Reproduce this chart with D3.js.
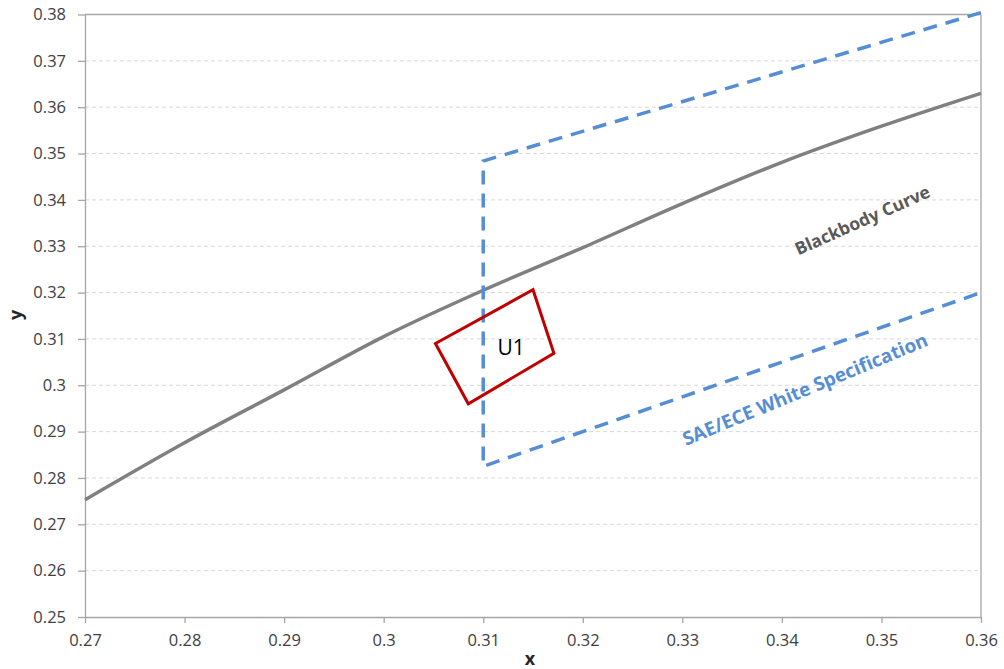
<!DOCTYPE html>
<html><head><meta charset="utf-8">
<script src="https://cdn.jsdelivr.net/npm/d3@7"></script>
<style>body{margin:0;background:#fff;} text{font-family:"Open Sans","Noto Sans",sans-serif;}</style>
</head><body>
<svg id="c" width="1004" height="669"></svg>
<script>
// Blackbody (Planckian) curve points
const bbX = [0.27, 0.28, 0.29, 0.30, 0.31, 0.32, 0.33, 0.34, 0.35, 0.36];
const bbY = [0.2753, 0.2876, 0.2990, 0.3105, 0.3205, 0.3297, 0.3392, 0.3481, 0.3559, 0.3630];
// SAE/ECE white specification boundary (open box)
const specX = [0.36, 0.31, 0.31, 0.36];
const specY = [0.3804, 0.3484, 0.2825, 0.3200];
// U1 quadrilateral
const u1X = [0.3052, 0.3150, 0.3171, 0.3085];
const u1Y = [0.3090, 0.3206, 0.3069, 0.2960];
// ticks
const xTicks = [0.27, 0.28, 0.29, 0.30, 0.31, 0.32, 0.33, 0.34, 0.35, 0.36];
const xTickLabels = ["0.27","0.28","0.29","0.3","0.31","0.32","0.33","0.34","0.35","0.36"];
const yTicks = [0.25,0.26,0.27,0.28,0.29,0.30,0.31,0.32,0.33,0.34,0.35,0.36,0.37,0.38];
const yTickLabels = ["0.25","0.26","0.27","0.28","0.29","0.3","0.31","0.32","0.33","0.34","0.35","0.36","0.37","0.38"];

const L = 85, R = 981, T = 14.5, B = 617;
const svg = d3.select("#c");
const x = d3.scaleLinear().domain([0.27, 0.36]).range([L, R]);
const y = d3.scaleLinear().domain([0.25, 0.38]).range([B, T]);

// gridlines
svg.append("g").selectAll("line").data(yTicks.slice(1, -1)).join("line")
  .attr("x1", L).attr("x2", R).attr("y1", d => y(d)).attr("y2", d => y(d))
  .attr("stroke", "#d9d9d9").attr("stroke-width", 1).attr("stroke-dasharray", "4,3");

// frame top/right
svg.append("line").attr("x1", L).attr("x2", R).attr("y1", T).attr("y2", T).attr("stroke", "#a6a6a6").attr("stroke-width", 1.3);
svg.append("line").attr("x1", R).attr("x2", R).attr("y1", T).attr("y2", B).attr("stroke", "#a6a6a6").attr("stroke-width", 1.3);

// axes
const xAxis = d3.axisBottom(x).tickValues(xTicks).tickFormat((d, i) => xTickLabels[i]).tickSize(6).tickSizeOuter(0);
const gx = svg.append("g").attr("transform", `translate(0,${B})`).call(xAxis);
const yAxis = d3.axisLeft(y).tickValues(yTicks).tickFormat((d, i) => yTickLabels[i]).tickSize(7).tickSizeOuter(0);
const gy = svg.append("g").attr("transform", `translate(${L},0)`).call(yAxis);
[gx, gy].forEach(g => {
  g.attr("font-size", null).attr("font-family", null);
  g.select(".domain").attr("stroke", "#a6a6a6").attr("stroke-width", 1.3);
  g.selectAll(".tick line").attr("stroke", "#a6a6a6").attr("stroke-width", 1.3);
  g.selectAll(".tick text").attr("fill", "#404040").style("font-size", "16.5px")
    .style("font-family", '"Open Sans","Noto Sans",sans-serif');
});
gx.selectAll(".tick text").attr("dy", null).attr("dominant-baseline", "middle").attr("y", 25);
gy.selectAll(".tick text").attr("x", -19);

// axis titles
svg.append("text").attr("x", x(0.3147)).attr("y", 660).attr("text-anchor", "middle").attr("dominant-baseline", "middle")
  .style("font-size", "18px").style("font-weight", "bold").attr("fill", "#262626").text("x");
svg.append("text").attr("transform", `translate(17,${y(0.3152)}) rotate(-90)`).attr("text-anchor", "middle").attr("dominant-baseline", "middle")
  .style("font-size", "18px").style("font-weight", "bold").attr("fill", "#262626").text("y");

// blackbody curve
const line = d3.line().x(d => x(d[0])).y(d => y(d[1]));
svg.append("path").datum(bbX.map((v, i) => [v, bbY[i]])).attr("d", line.curve(d3.curveMonotoneX))
  .attr("fill", "none").attr("stroke", "#808080").attr("stroke-width", 3.5).attr("stroke-linejoin", "round");
line.curve(d3.curveLinear);

// spec boundary
svg.append("path").datum(specX.map((v, i) => [v, specY[i]])).attr("d", line)
  .attr("fill", "none").attr("stroke", "#558ed5").attr("stroke-width", 3.5).attr("stroke-dasharray", "14,9");

// U1
svg.append("path").datum(u1X.map((v, i) => [v, u1Y[i]])).attr("d", d => line(d) + "Z")
  .attr("fill", "none").attr("stroke", "#c00000").attr("stroke-width", 3).attr("stroke-linejoin", "miter");
svg.append("text").attr("x", x(0.3128)).attr("y", y(0.3078)).attr("text-anchor", "middle").attr("dominant-baseline", "middle")
  .style("font-size", "21px").attr("fill", "#000").text("U1");

// labels
svg.append("text").attr("transform", `translate(${x(0.34814)},${y(0.3353)}) rotate(-24)`).attr("text-anchor", "middle").attr("dominant-baseline", "middle")
  .style("font-size", "17.5px").style("font-weight", "bold").attr("fill", "#595959").text("Blackbody Curve");
svg.append("text").attr("transform", `translate(${x(0.34239)},${y(0.2988)}) rotate(-22.5)`).attr("text-anchor", "middle").attr("dominant-baseline", "middle")
  .style("font-size", "19px").style("font-weight", "bold").attr("fill", "#558ed5").text("SAE/ECE White Specification");
</script>
</body></html>
